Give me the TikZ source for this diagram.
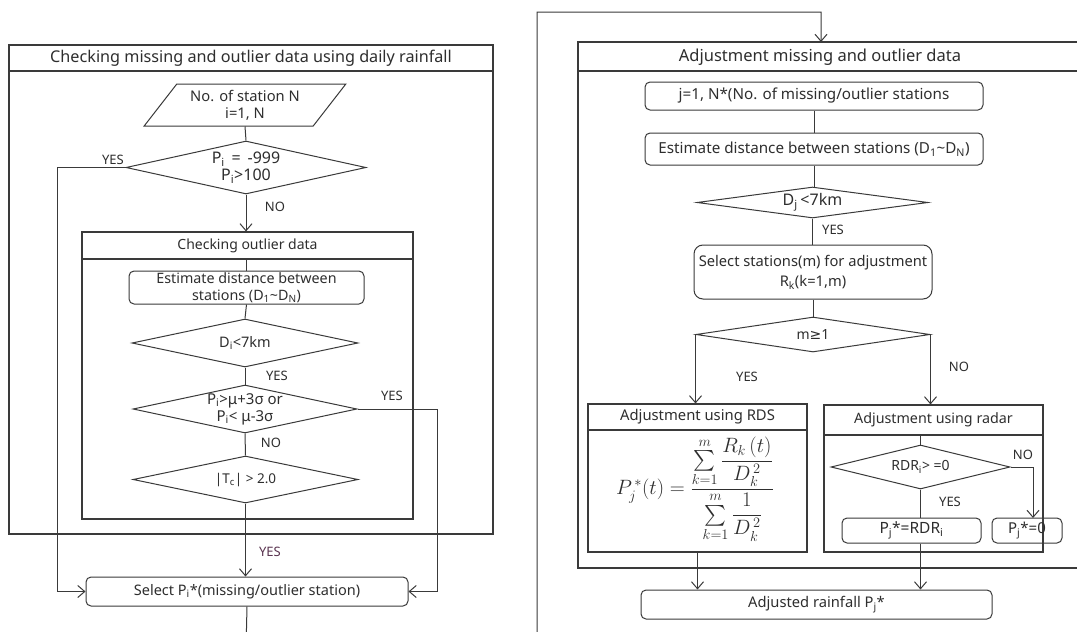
\documentclass[tikz,border=0pt]{standalone}
\usepackage{amsmath}
\usepackage{fontspec}
\setmainfont{Noto Sans}
\newfontfamily\dejavu{DejaVu Sans}
\usetikzlibrary{arrows.meta,shapes.geometric}
\definecolor{lc}{HTML}{3A3A3A}
\definecolor{tc}{HTML}{2E2E2E}
\definecolor{yc}{HTML}{5A3450}
\newcommand\FS[2]{\fontsize{#1}{#2}\selectfont}
\begin{document}
\begin{tikzpicture}[x=1pt,y=-1pt,
  font=\FS{14.5}{17}, text=tc,
  ln/.style={draw=lc, line width=1pt},
  arr/.style={ln, -{Straight Barb[length=7pt,width=12pt,line width=1pt]}},
  frame/.style={draw=lc, line width=1.3pt, inner sep=0pt},
  rbox/.style={draw=lc, line width=1pt, rounded corners=5pt, inner sep=0pt, align=center},
  dia/.style={draw=lc, line width=1pt, diamond, inner sep=0pt, align=center},
  lbl/.style={font=\FS{13}{15}, inner sep=0pt},
  ttl/.style={inner sep=0pt}]
\clip (0,0) rectangle (1077,632);
\fill[white] (0,0) rectangle (1077,632);

% ---------------- left part ----------------
\node[frame, minimum width=484pt, minimum height=489pt] (L) at (251,289.5) {};
\draw[ln, line width=1.3pt] (9,71) -- (493,71);
\node[ttl, font=\FS{16.2}{18}] (Lt) at (251,58) {Checking missing and outlier data using daily rainfall};

\node[draw=lc, line width=1pt, trapezium, trapezium left angle=49, trapezium right angle=131,
  trapezium stretches=true, minimum width=202pt, minimum height=42pt, inner sep=0pt, align=center,
  font=\FS{14.7}{17}]
  (par) at (245,105) {No. of station N\\i=1, N};

\node[dia, aspect=4.5, minimum width=240pt, minimum height=53pt, font=\FS{16}{17}] (d1) at (246,167.5)
  {P\textsubscript{i}\, = \,-999\\P\textsubscript{i}>100};

\node[frame, line width=1.1pt, minimum width=331pt, minimum height=287pt] (cod) at (247.5,375.5) {};
\draw[ln, line width=1.1pt] (82,259) -- (413,259);
\node[ttl, font=\FS{14}{16}] (codt) at (247.5,245.5) {Checking outlier data};

\node[rbox, minimum width=235pt, minimum height=33pt, font=\FS{14.3}{17.5}] (est1) at (246.5,287.5)
  {Estimate distance between\\stations (D\textsubscript{1}\textasciitilde D\textsubscript{N})};
\node[dia, aspect=4.7, minimum width=226pt, minimum height=48pt, font=\FS{14.5}{17}] (d2) at (245,343)
  {D\textsubscript{i}<7km};
\node[dia, aspect=4.7, minimum width=224pt, minimum height=48pt, font=\FS{15}{17}] (d3) at (245,409)
  {P\textsubscript{i}>μ+3σ or\\P\textsubscript{i}< μ-3σ};
\node[dia, aspect=4.8, minimum width=225pt, minimum height=47pt, font=\FS{13.5}{16}] (d4) at (245.5,479.5)
  {|T\textsubscript{c}| > 2.0};

\node[rbox, minimum width=322pt, minimum height=29pt] (sel) at (247,591.5)
  {Select P\textsubscript{i}*(missing/outlier station)};

\draw[ln] (par.south) -- (d1.north);
\draw[arr] (d1.south) -- (d1.south |- cod.north);
\node[lbl] at (275,207) {NO};
\draw[arr] (d1.west) -- (57,167.5) -- (57,591.5) -- (sel.west);
\node[lbl] at (113,160) {YES};
\draw[ln] (est1.north |- 0,259) -- (est1.north);
\draw[ln] (est1.south) -- (d2.north);
\draw[ln] (d2.south) -- (d3.north);
\node[lbl] at (277,376) {YES};
\draw[ln] (d3.south) -- (d4.north);
\node[lbl] at (271,443) {NO};
\draw[arr] (d3.east) -- (437,409) -- (437,591.5) -- (sel.east);
\node[lbl] at (392,396) {YES};
\draw[arr] (d4.south) -- (d4.south |- sel.north);
\node[lbl, text=yc] at (270,552) {YES};

% ---------------- right part ----------------
\node[frame, minimum width=512pt, minimum height=526pt] (R) at (834,305) {};
\draw[ln, line width=1.3pt] (578,71) -- (1090,71);
\node[ttl, font=\FS{16.5}{18}] (Rt) at (820,57) {Adjustment missing and outlier data};

\draw[arr] (sel.south) -- (246,650) -- (537,650) -- (537,12) -- (821,12) -- (821,42);

\node[rbox, minimum width=338pt, minimum height=28pt, font=\FS{15.2}{17}] (j1) at (814,96)
  {j=1, N*(No. of missing/outlier stations};
\node[rbox, minimum width=338pt, minimum height=32pt, font=\FS{15.2}{17}] (est2) at (814,149)
  {Estimate distance between stations (D\textsubscript{1}\textasciitilde D\textsubscript{N})};
\node[dia, aspect=7.4, minimum width=231pt, minimum height=31pt, font=\FS{16}{17}] (d5) at (812.5,202.5)
  {D\textsubscript{j}\,<7km};
\node[rbox, rounded corners=9pt, minimum width=238pt, minimum height=54pt, font=\FS{14.7}{20}] (sel2) at (813,272)
  {Select stations(m) for adjustment\\R\textsubscript{k}(k=1,m)};
\node[dia, aspect=6.7, minimum width=234pt, minimum height=35pt, font=\FS{14}{16}] (d6) at (813,334.5)
  {m{\dejavu ≥}1};

\draw[ln] (j1.south) -- (j1.south |- est2.north);
\draw[ln] (est2.south) -- (est2.south |- d5.north);
\draw[ln] (d5.south) -- (d5.south |- sel2.north);
\node[lbl] at (833,230) {YES};
\draw[ln] (sel2.south) -- (sel2.south |- d6.north);

\node[frame, line width=1.1pt, minimum width=219pt, minimum height=148pt] (rds) at (697.5,478) {};
\draw[ln, line width=1.1pt] (588,430) -- (807,430);
\node[ttl, font=\FS{14.8}{17}] (rdst) at (697.5,417) {Adjustment using RDS};
\node[inner sep=0pt] (frm) at (695,489)
  {\FS{20}{24}$\displaystyle P_j^{\,*}(t)=\frac{\sum\limits_{k=1}^{m}\dfrac{R_k\,(t)}{D_k^{\,2}}}{\sum\limits_{k=1}^{m}\dfrac{1}{D_k^{\,2}}}$};

\node[frame, line width=1.1pt, minimum width=219pt, minimum height=147pt] (rad) at (933.5,478.5) {};
\draw[ln, line width=1.1pt] (824,435) -- (1043,435);
\node[ttl, font=\FS{14.3}{17}] (radt) at (933.5,420) {Adjustment using radar};

\draw[arr] (d6.west) -- (d6.west |- rds.north);
\node[lbl] at (747,377) {YES};
\draw[arr] (d6.east) -- (d6.east |- rad.north);
\node[lbl] at (959,367) {NO};

\node[dia, aspect=4, minimum width=179pt, minimum height=44pt, font=\FS{14}{16}] (d7) at (920.5,467)
  {RDR\textsubscript{i}> =0};
\node[rbox, minimum width=139pt, minimum height=25pt, font=\FS{15.5}{17}] (p1) at (911.5,530.5)
  {P\textsubscript{j}*=RDR\textsubscript{i}};
\node[rbox, minimum width=70pt, minimum height=25pt, font=\FS{15}{17}] (p0) at (1027,530.5)
  {P\textsubscript{j}*=0};
\node[rbox, minimum width=351pt, minimum height=29pt, font=\FS{14.7}{17}] (adj) at (816.5,604.5)
  {Adjusted rainfall P\textsubscript{j}*};

\draw[ln] (d7.north |- 0,435) -- (d7.north);
\draw[ln] (d7.south) -- (d7.south |- p1.north);
\node[lbl] at (950,502) {YES};
\draw[arr] (d7.east) -- (1033,467) -- (1033,518);
\node[lbl] at (1023,455) {NO};
\draw[arr] (d7.south |- p1.south) -- (d7.south |- adj.north);
\draw[arr] (rds.south) -- (rds.south |- adj.north);
\end{tikzpicture}
\end{document}
